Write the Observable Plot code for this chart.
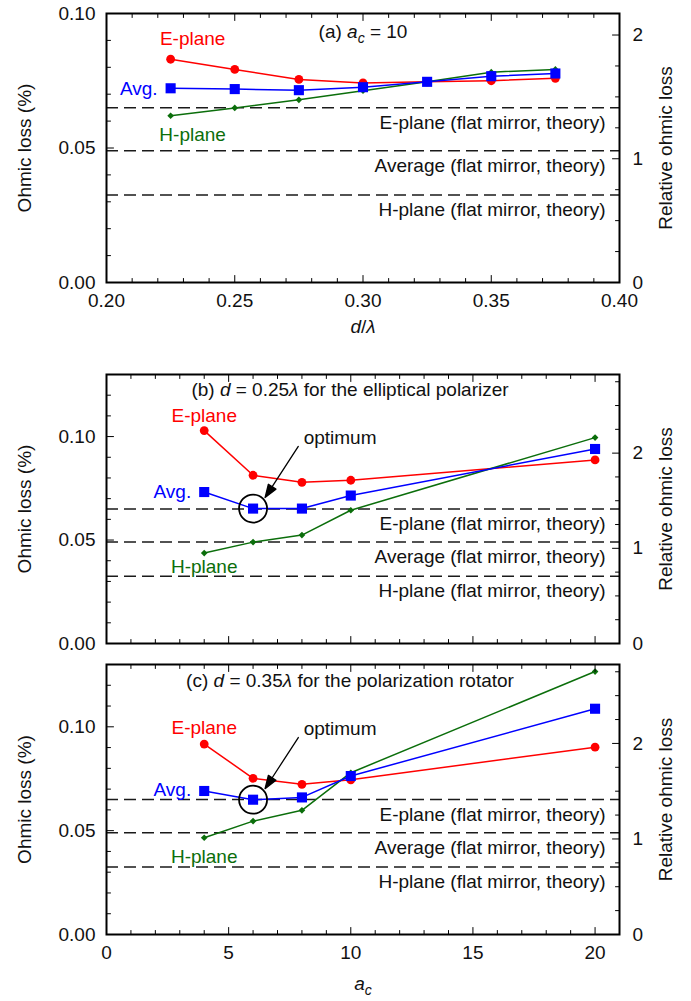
<!DOCTYPE html>
<html>
<head>
<meta charset="utf-8">
<script src="https://cdn.jsdelivr.net/npm/d3@7"></script>
<script src="https://cdn.jsdelivr.net/npm/@observablehq/plot@0.6"></script>
<style>
  html, body { margin: 0; padding: 0; background: #fff; }
  #chart svg { display: block; overflow: visible; }
</style>
</head>
<body>
<div id="chart"></div>
<script>
// ---------------- data ----------------
const seriesNames = ["E-plane", "Avg.", "H-plane"];

// panel (a): a_c = 10, vs d/lambda
const dOverLambda = [0.225, 0.25, 0.275, 0.30, 0.325, 0.35, 0.375];
const aEplane = [0.0830, 0.0792, 0.0755, 0.0742, 0.0746, 0.0750, 0.0759];
const aAvg    = [0.0722, 0.0719, 0.0715, 0.0726, 0.0746, 0.0767, 0.0777];
const aHplane = [0.0620, 0.0649, 0.0679, 0.0713, 0.0746, 0.0782, 0.0792];

// panels (b), (c): vs a_c
const acValues = [4, 6, 8, 10, 20];
const bEplane = [0.1029, 0.0813, 0.0779, 0.0789, 0.0887];
const bAvg    = [0.0732, 0.0652, 0.0652, 0.0715, 0.0940];
const bHplane = [0.0437, 0.0490, 0.0524, 0.0644, 0.0995];
const cEplane = [0.0917, 0.0752, 0.0723, 0.0745, 0.0902];
const cAvg    = [0.0691, 0.0649, 0.0660, 0.0763, 0.1087];
const cHplane = [0.0466, 0.0546, 0.0598, 0.0779, 0.1266];

// flat-mirror theory
const theoryValues = [0.065, 0.049, 0.0325];
const theoryLabels = ["E-plane (flat mirror, theory)", "Average (flat mirror, theory)", "H-plane (flat mirror, theory)"];

// relative ohmic loss reference (value equal to 1 on right axis)
const relRef = 0.046;

// tick labels
const yTickLabels = [0.00, 0.05, 0.10];
const relTickLabels = [0, 1, 2];
const xTicksA = [0.20, 0.25, 0.30, 0.35, 0.40];
const xTicksBC = [0, 5, 10, 15, 20];

const titles = [
  "(a) a_c = 10",
  "(b) d = 0.25λ for the elliptical polarizer",
  "(c) d = 0.35λ for the polarization rotator"
];
const xAxisLabels = ["d/λ", "a_c"];
const yAxisLabel = "Ohmic loss (%)";
const rightAxisLabel = "Relative ohmic loss";
const optimumLabel = "optimum";
const optimumIndex = 1;

// ---------------- rendering ----------------
const font = "'Liberation Sans', Arial, Helvetica, sans-serif";
const colors = {E: "#ff0000", A: "#0000ff", H: "#0b6e0b"};

const tickShape = {draw(ctx, l) { ctx.moveTo(0, 0); ctx.lineTo(0, -l); }};
const arrowShape = {draw(ctx, l) {
  ctx.moveTo(0, 0); ctx.lineTo(0, -(l - 11));
  ctx.moveTo(0, -l); ctx.lineTo(-4.5, -l + 13); ctx.lineTo(4.5, -l + 13); ctx.closePath();
}};

function tickMarks(values, side, len) {
  const rot = {left: 90, right: -90, bottom: 0, top: 180}[side];
  const ch = (side === "left" || side === "right") ? {y: d => d} : {x: d => d};
  return Plot.vector(values, {...ch, frameAnchor: side, rotate: rot, length: len, anchor: "start",
    shape: tickShape, stroke: "black", strokeWidth: 1});
}

const rich = {
  "(a) a_c = 10": '(a) <tspan font-style="italic">a</tspan><tspan font-style="italic" font-size="14" dy="5">c</tspan><tspan dy="-5"> = 10</tspan>',
  "(b) d = 0.25λ for the elliptical polarizer": '(b) <tspan font-style="italic">d</tspan> = 0.25<tspan font-style="italic">λ</tspan> for the elliptical polarizer',
  "(c) d = 0.35λ for the polarization rotator": '(c) <tspan font-style="italic">d</tspan> = 0.35<tspan font-style="italic">λ</tspan> for the polarization rotator',
  "d/λ": '<tspan font-style="italic">d</tspan>/<tspan font-style="italic">λ</tspan>',
  "a_c": '<tspan font-style="italic">a</tspan><tspan font-style="italic" font-size="14" dy="5">c</tspan>'
};

const r2 = v => Math.round(v * 1e6) / 1e6;

function makePanel(cfg) {
  const marks = [];
  const theory = theoryValues.map((v, i) => ({v, label: theoryLabels[i]}));
  marks.push(Plot.ruleY(theory, {y: "v", stroke: "#1a1a1a", strokeWidth: 1.5, strokeDasharray: "12,6"}));
  marks.push(Plot.text(theory, {y: "v", text: "label", frameAnchor: "right", textAnchor: "end", lineAnchor: "middle", dx: -14, dy: 15, fill: "#111"}));

  const series = [
    {name: seriesNames[0], vals: cfg.E, color: colors.E, symbol: "circle", r: 4.4, lab: cfg.labE},
    {name: seriesNames[2], vals: cfg.H, color: colors.H, symbol: "diamond2", r: 3.0, lab: cfg.labH},
    {name: seriesNames[1], vals: cfg.A, color: colors.A, symbol: "square", r: 5.7, lab: cfg.labA}
  ];
  for (const s of series) {
    const rows = cfg.x.map((x, i) => ({x, y: s.vals[i]}));
    marks.push(Plot.line(rows, {x: "x", y: "y", stroke: s.color, strokeWidth: 1.5}));
  }
  for (const s of series) {
    const rows = cfg.x.map((x, i) => ({x, y: s.vals[i]}));
    marks.push(Plot.dot(rows, {x: "x", y: "y", symbol: s.symbol, r: s.r, fill: s.color, stroke: "none"}));
    marks.push(Plot.text([s.name], {x: () => cfg.x[0], y: () => s.vals[0], text: d => d,
      dx: s.lab.dx, dy: s.lab.dy, textAnchor: s.lab.anchor, fill: s.color}));
  }

  if (cfg.optimum) {
    const ox = cfg.x[optimumIndex], oy = cfg.A[optimumIndex];
    marks.push(Plot.dot([0], {x: () => ox, y: () => oy, r: 14, fill: "none", stroke: "black", strokeWidth: 1.8}));
    marks.push(Plot.vector([0], {x: () => ox, y: () => oy, dx: 12, dy: -11, rotate: 213, length: 61,
      anchor: "end", shape: arrowShape, fill: "black", stroke: "black", strokeWidth: 1.3}));
    marks.push(Plot.text([optimumLabel], {x: () => ox, y: () => oy, text: d => d, dx: 87, dy: -71, fill: "#111"}));
  }

  // title
  marks.push(Plot.text([cfg.title], {frameAnchor: "top", textAnchor: "middle", lineAnchor: "middle",
    text: d => d, dx: cfg.titleDx, dy: cfg.titleDy, fill: "#111"}));

  // ticks (inward)
  const yMinor = d3.range(0, Math.round(cfg.yMax * 100) + 1).map(i => r2(i / 100)).filter(v => !cfg.yMajor.includes(v));
  marks.push(tickMarks(cfg.yMajor, "left", 7));
  marks.push(tickMarks(yMinor, "left", 4));
  const relMax = cfg.yMax / relRef;
  const relMinor = d3.range(0, Math.floor(relMax * 4) + 1).map(i => i / 4).filter(v => !relTickLabels.includes(v));
  marks.push(tickMarks(relTickLabels.map(d => d * relRef), "right", 7));
  marks.push(tickMarks(relMinor.map(d => d * relRef), "right", 4));
  const [x0, x1] = cfg.xDomain;
  const nMinor = Math.round((x1 - x0) / cfg.xMinorStep);
  const xMinor = d3.range(0, nMinor + 1).map(i => r2(x0 + i * cfg.xMinorStep)).filter(v => !cfg.xMajor.includes(v));
  for (const side of ["bottom", "top"]) {
    marks.push(tickMarks(cfg.xMajor, side, 7));
    marks.push(tickMarks(xMinor, side, 4));
  }

  // tick labels
  marks.push(Plot.axisY(yTickLabels, {anchor: "left", tickSize: 0, tickPadding: 11, tickFormat: d3.format(".2f"), label: null, fill: "#111"}));
  marks.push(Plot.axisY(relTickLabels.map(d => d * relRef), {anchor: "right", tickSize: 0, tickPadding: 13,
    tickFormat: d => String(Math.round(d / relRef)), label: null, fill: "#111"}));
  if (cfg.showX) {
    marks.push(Plot.axisX(cfg.xMajor, {anchor: "bottom", tickSize: 0, tickPadding: 11, tickFormat: cfg.xFormat, label: null, fill: "#111"}));
    marks.push(Plot.text([cfg.xLabel], {frameAnchor: "bottom", textAnchor: "middle", lineAnchor: "middle",
      text: d => d, dy: cfg.xLabelDy, fill: "#111"}));
  }
  // axis titles
  marks.push(Plot.text([yAxisLabel], {frameAnchor: "left", textAnchor: "middle", lineAnchor: "middle",
    rotate: -90, text: d => d, dx: -82, fill: "#111"}));
  marks.push(Plot.text([rightAxisLabel], {frameAnchor: "right", textAnchor: "middle", lineAnchor: "middle",
    rotate: -90, text: d => d, dx: 46, fill: "#111"}));

  marks.push(Plot.frame({stroke: "black", strokeWidth: 2}));

  const svg = Plot.plot({
    width: 691,
    height: cfg.height,
    marginTop: cfg.marginTop,
    marginBottom: cfg.marginBottom,
    marginLeft: 106,
    marginRight: 72,
    style: {fontFamily: font, fontSize: "19px", background: "white", overflow: "visible"},
    x: {domain: cfg.xDomain, axis: null},
    y: {domain: [0, cfg.yMax], axis: null},
    marks
  });
  d3.select(svg).selectAll("text").each(function () {
    const t = this.textContent;
    if (rich[t]) this.innerHTML = rich[t];
  });
  return svg;
}

const chart = document.getElementById("chart");

chart.appendChild(makePanel({
  height: 340, marginTop: 13, marginBottom: 58,
  x: dOverLambda, E: aEplane, A: aAvg, H: aHplane,
  xDomain: [0.20, 0.40], xMajor: xTicksA, xMinorStep: 0.01, xFormat: d3.format(".2f"),
  yMax: 0.10, yMajor: [0, 0.05, 0.10],
  title: titles[0], titleDx: 0, titleDy: 18,
  labE: {dx: 22, dy: -20, anchor: "middle"},
  labA: {dx: -13, dy: 1, anchor: "end"},
  labH: {dx: 22, dy: 19, anchor: "middle"},
  showX: true, xLabel: xAxisLabels[0], xLabelDy: 44,
  optimum: false
}));

chart.appendChild(makePanel({
  height: 315, marginTop: 34, marginBottom: 12,
  x: acValues, E: bEplane, A: bAvg, H: bHplane,
  xDomain: [0, 21], xMajor: xTicksBC, xMinorStep: 1, xFormat: d3.format("d"),
  yMax: 0.13, yMajor: [0, 0.05, 0.10],
  title: titles[1], titleDx: -13, titleDy: 15,
  labE: {dx: 0, dy: -15, anchor: "middle"},
  labA: {dx: -13, dy: 0, anchor: "end"},
  labH: {dx: 0, dy: 14, anchor: "middle"},
  showX: false,
  optimum: true
}));

chart.appendChild(makePanel({
  height: 346, marginTop: 9, marginBottom: 67,
  x: acValues, E: cEplane, A: cAvg, H: cHplane,
  xDomain: [0, 21], xMajor: xTicksBC, xMinorStep: 1, xFormat: d3.format("d"),
  yMax: 0.13, yMajor: [0, 0.05, 0.10],
  title: titles[2], titleDx: -13, titleDy: 16,
  labE: {dx: 0, dy: -16, anchor: "middle"},
  labA: {dx: -13, dy: -1, anchor: "end"},
  labH: {dx: 0, dy: 19, anchor: "middle"},
  showX: true, xLabel: xAxisLabels[1], xLabelDy: 49,
  optimum: true
}));
</script>
</body>
</html>
